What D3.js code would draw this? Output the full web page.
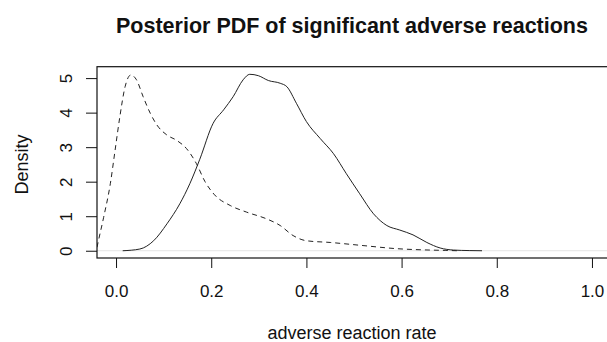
<!DOCTYPE html>
<html>
<head>
<meta charset="utf-8">
<script src="https://d3js.org/d3.v7.min.js"></script>
<style>
  body { margin: 0; background: #fff; }
  text { font-family: "Liberation Sans", Arial, sans-serif; fill: #111; }
</style>
</head>
<body>
<div id="main"></div>
<script>
// posterior density, dashed curve (x, density)
var dashedX = [-0.040, -0.037, -0.026, -0.012, -0.002, 0.008, 0.019, 0.031, 0.043, 0.057, 0.072, 0.086, 0.107, 0.127, 0.148, 0.169, 0.187, 0.207, 0.240, 0.274, 0.317, 0.345, 0.372, 0.400, 0.450, 0.519, 0.590, 0.660, 0.693, 0.718];
var dashedY = [0.10, 0.29, 0.97, 1.94, 2.91, 3.88, 4.75, 5.09, 4.95, 4.46, 3.98, 3.64, 3.35, 3.20, 2.96, 2.52, 2.00, 1.62, 1.31, 1.12, 0.92, 0.73, 0.44, 0.29, 0.24, 0.15, 0.06, 0.02, 0.01, 0.0];

// posterior density, solid curve
var solidX = [0.014, 0.050, 0.079, 0.107, 0.134, 0.155, 0.176, 0.204, 0.226, 0.246, 0.267, 0.281, 0.299, 0.320, 0.345, 0.359, 0.379, 0.400, 0.429, 0.457, 0.484, 0.512, 0.541, 0.569, 0.596, 0.624, 0.653, 0.681, 0.709, 0.742, 0.769];
var solidY = [0.0, 0.05, 0.29, 0.78, 1.36, 1.94, 2.65, 3.69, 4.08, 4.46, 4.95, 5.11, 5.07, 4.93, 4.85, 4.75, 4.27, 3.74, 3.25, 2.81, 2.23, 1.65, 1.07, 0.73, 0.60, 0.46, 0.24, 0.08, 0.02, 0.005, 0.0];

var xTicks = [0, 0.2, 0.4, 0.6, 0.8, 1.0];
var yTicks = [0, 1, 2, 3, 4, 5];

var dimensions = {
  width: 607,
  height: 342,
  margin: { top: 66.7, bottom: 84, right: -4, left: 97 }
};
dimensions.boundedWidth = dimensions.width - dimensions.margin.left - dimensions.margin.right;
dimensions.boundedHeight = dimensions.height - dimensions.margin.top - dimensions.margin.bottom;

var svg = d3.select("#main")
  .append("svg")
    .attr("width", dimensions.width)
    .attr("height", dimensions.height);

var x = d3.scaleLinear()
  .domain([-0.04, 1.04])
  .range([dimensions.margin.left, dimensions.margin.left + dimensions.boundedWidth]);

var y = d3.scaleLinear()
  .domain([-0.21, 5.33])
  .range([dimensions.margin.top + dimensions.boundedHeight, dimensions.margin.top]);

var bottom = dimensions.margin.top + dimensions.boundedHeight;

// clip for the curves
svg.append("defs").append("clipPath")
  .attr("id", "clip")
  .append("rect")
    .attr("x", dimensions.margin.left)
    .attr("y", dimensions.margin.top)
    .attr("width", dimensions.boundedWidth)
    .attr("height", dimensions.boundedHeight);

// zero line
svg.append("line")
  .attr("x1", dimensions.margin.left)
  .attr("x2", dimensions.margin.left + dimensions.boundedWidth)
  .attr("y1", y(0))
  .attr("y2", y(0))
  .attr("stroke", "#e4e4e4")
  .attr("stroke-width", 1);

var line = d3.line()
  .x(function(d) { return x(d[0]); })
  .y(function(d) { return y(d[1]); })
  .curve(d3.curveMonotoneX);

var plot = svg.append("g").attr("clip-path", "url(#clip)");

plot.append("path")
  .datum(dashedX.map(function(v, i) { return [v, dashedY[i]]; }))
  .attr("d", line)
  .attr("fill", "none")
  .attr("stroke", "#222")
  .attr("stroke-width", 1)
  .attr("stroke-dasharray", "5,4");

plot.append("path")
  .datum(solidX.map(function(v, i) { return [v, solidY[i]]; }))
  .attr("d", line)
  .attr("fill", "none")
  .attr("stroke", "#222")
  .attr("stroke-width", 1);

// box
svg.append("rect")
  .attr("x", dimensions.margin.left)
  .attr("y", dimensions.margin.top)
  .attr("width", dimensions.boundedWidth)
  .attr("height", dimensions.boundedHeight)
  .attr("fill", "none")
  .attr("stroke", "#111")
  .attr("stroke-width", 1.2);

// x axis
var xAxis = svg.append("g")
  .attr("transform", "translate(0," + bottom + ")")
  .call(d3.axisBottom(x).tickValues(xTicks).tickSize(10).tickPadding(17)
    .tickFormat(d3.format(".1f")));
xAxis.select(".domain").remove();
xAxis.selectAll("line").attr("stroke", "#111");
xAxis.selectAll("text")
  .style("font-size", "17px")
  .style("font-family", "Liberation Sans, Arial, sans-serif")
  .attr("fill", "#111");

// y axis
var yAxis = svg.append("g")
  .attr("transform", "translate(" + dimensions.margin.left + ",0)")
  .call(d3.axisLeft(y).tickValues(yTicks).tickSize(11).tickFormat(d3.format("d")));
yAxis.select(".domain").remove();
yAxis.selectAll("line").attr("stroke", "#111");
yAxis.selectAll("text")
  .attr("x", 0)
  .attr("y", 0)
  .attr("dy", null)
  .attr("text-anchor", "middle")
  .attr("dominant-baseline", "central")
  .attr("transform", "translate(-31,0) rotate(-90)")
  .style("font-size", "17px")
  .style("font-family", "Liberation Sans, Arial, sans-serif")
  .attr("fill", "#111");

// titles
svg.append("text")
  .attr("x", 352)
  .attr("y", 33)
  .attr("text-anchor", "middle")
  .style("font-size", "21.5px")
  .style("font-weight", "bold")
  .text("Posterior PDF of significant adverse reactions");

svg.append("text")
  .attr("x", 352)
  .attr("y", 339)
  .attr("text-anchor", "middle")
  .style("font-size", "18px")
  .text("adverse reaction rate");

svg.append("text")
  .attr("transform", "translate(28," + (y(2.5)) + ") rotate(-90)")
  .attr("text-anchor", "middle")
  .style("font-size", "18px")
  .text("Density");
</script>
</body>
</html>
